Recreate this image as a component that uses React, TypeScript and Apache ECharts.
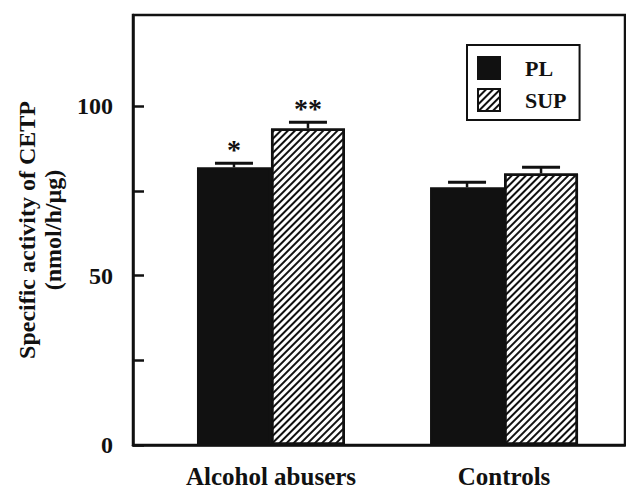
import React, { useEffect, useRef } from "react";
import * as echarts from "echarts";

const categories = ["Alcohol abusers", "Controls"];
const categoryPos = [1, 2];
const plMeans = [82, 76.1];
const plErr = [1.2, 1.5];
const supMeans = [93.5, 80.2];
const supErr = [1.8, 1.8];
const plStars = ["*", ""];
const supStars = ["**", ""];
const yTicks = [0, 25, 50, 75, 100];
const yLabels = [0, 50, 100];

const FONT = "Liberation Serif";
const BAR_W = 74;

const hatch = {
  symbol: "rect",
  symbolSize: 1,
  rotation: -Math.PI / 4,
  dashArrayX: [1, 0],
  dashArrayY: [1.6, 2.2],
  color: "#111",
  backgroundColor: "#fff",
};

function errSeries(name: string, means: number[], errs: number[], stars: string[], offset: number) {
  return {
    type: "custom",
    name: name + "_err",
    z: 5,
    data: means.map((m, i) => [categoryPos[i], m, errs[i]]),
    renderItem: (params: any, api: any) => {
      const x = api.value(0);
      const m = api.value(1);
      const e = api.value(2);
      const star = stars[params.dataIndex];
      const p0 = api.coord([x, m]);
      const p1 = api.coord([x, m + e]);
      const cx = p0[0] + offset;
      const children: any[] = [
        { type: "line", shape: { x1: cx, y1: p0[1], x2: cx, y2: p1[1] }, style: { stroke: "#111", lineWidth: 2.5 } },
        { type: "line", shape: { x1: cx - 19, y1: p1[1], x2: cx + 19, y2: p1[1] }, style: { stroke: "#111", lineWidth: 3 } },
      ];
      if (star) {
        children.push({
          type: "text",
          style: {
            text: star,
            x: cx,
            y: p1[1] - 28,
            align: "center",
            verticalAlign: "top",
            fontFamily: FONT,
            fontWeight: "bold",
            fontSize: 28,
            fill: "#111",
          },
        });
      }
      return { type: "group", children };
    },
  };
}

export default function App() {
  const ref = useRef<HTMLDivElement>(null);
  useEffect(() => {
    const chart = echarts.init(ref.current!, null, { renderer: "svg" });
    chart.setOption({
      animation: false,
      backgroundColor: "#fff",
      grid: {
        left: 133,
        right: 1,
        top: 15,
        bottom: 45,
        show: true,
        borderColor: "#111",
        borderWidth: 2.5,
      },
      legend: {
        left: 467,
        top: 45,
        orient: "vertical",
        data: ["PL", "SUP"],
        icon: "rect",
        itemWidth: 22,
        itemHeight: 22,
        itemGap: 8,
        padding: [11, 13, 8, 10],
        borderColor: "#111",
        borderWidth: 2,
        textStyle: { fontFamily: FONT, fontWeight: "bold", fontSize: 22, color: "#111", padding: [0, 0, 0, 20] },
      },
      xAxis: {
        type: "value",
        min: 0.408,
        max: 2.519,
        splitLine: { show: false },
        axisLine: { lineStyle: { color: "#111", width: 2.5 } },
        axisTick: { show: false },
        axisLabel: {
          customValues: categoryPos,
          formatter: (v: number) => categories[categoryPos.indexOf(Math.round(v))] || "",
          fontFamily: FONT,
          fontWeight: "bold",
          fontSize: 25,
          color: "#111",
          margin: 19,
        },
      },
      yAxis: {
        type: "value",
        min: 0,
        max: 127,
        splitLine: { show: false },
        axisLine: { lineStyle: { color: "#111", width: 2.5 } },
        axisTick: { inside: true, length: 11, customValues: yTicks, lineStyle: { color: "#111", width: 2.5 } },
        axisLabel: {
          customValues: yLabels,
          fontFamily: FONT,
          fontWeight: "bold",
          fontSize: 24,
          color: "#111",
          margin: 20,
        },
        name: "Specific activity of CETP\n(nmol/h/\u00b5g)",
        nameLocation: "middle",
        nameGap: 66,
        nameTextStyle: { fontFamily: FONT, fontWeight: "bold", fontSize: 24, color: "#111", lineHeight: 26 },
      },
      series: [
        {
          type: "bar",
          name: "PL",
          barWidth: BAR_W,
          barGap: "0%",
          data: plMeans.map((m, i) => [categoryPos[i], m]),
          itemStyle: { color: "#111", borderColor: "#111", borderWidth: 2 },
        },
        {
          type: "bar",
          name: "SUP",
          barWidth: BAR_W,
          barGap: "0%",
          data: supMeans.map((m, i) => [categoryPos[i], m]),
          itemStyle: { color: "#fff", borderColor: "#111", borderWidth: 2.5, decal: hatch },
        },
        errSeries("PL", plMeans, plErr, plStars, -BAR_W / 2),
        errSeries("SUP", supMeans, supErr, supStars, BAR_W / 2),
      ],
    });
    return () => chart.dispose();
  }, []);
  return <div ref={ref} style={{ position: "fixed", left: 0, top: 0, width: 626, height: 490 }} />;
}
